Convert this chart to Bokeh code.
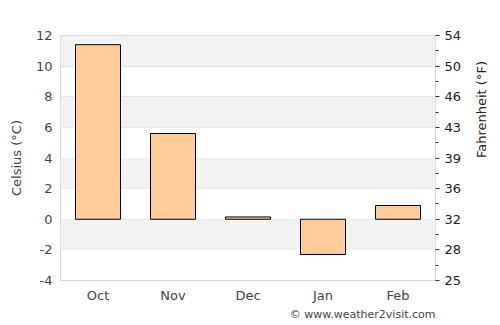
import math
from bokeh.plotting import figure
from bokeh.models import (LinearAxis, FixedTicker, BoxAnnotation, Title, Range1d, ColumnDataSource)
from bokeh.embed import file_html
from bokeh.resources import INLINE

months = ["Oct", "Nov", "Dec", "Jan", "Feb"]
celsius = [11.4, 5.6, 0.15, -2.3, 0.9]
c_ticks = [-4, -2, 0, 2, 4, 6, 8, 10, 12]
c_labels = ["-4", "-2", "0", "2", "4", "6", "8", "10", "12"]
f_labels = ["25", "28", "32", "36", "39", "43", "46", "50", "54"]
minor_ticks = [-3, -1, 1, 3, 5, 7, 9, 11]
band_ranges = [(10, 12), (6, 8), (2, 4), (-2, 0)]

FONT = "DejaVu Sans"
TXT = "#444444"

src = ColumnDataSource(dict(m=months, v=celsius))

p = figure(width=500, height=325, x_range=months, y_range=Range1d(-4, 12),
           output_backend="svg", toolbar_location=None,
           min_border_left=60, min_border_right=65, min_border_top=35, min_border_bottom=45)
p.outline_line_color = "#d4d4d4"
p.background_fill_color = "white"
p.border_fill_color = "white"

for lo, hi in band_ranges:
    p.add_layout(BoxAnnotation(bottom=lo, top=hi, fill_color="#f2f2f2", fill_alpha=1.0,
                               line_color=None, level="underlay"))

p.vbar(x="m", top="v", bottom=0, width=0.6, source=src,
       fill_color="#ffcc99", line_color="black", line_width=1)

p.xgrid.grid_line_color = None
p.ygrid.ticker = FixedTicker(ticks=c_ticks)
p.ygrid.grid_line_color = "#dddddd"

# left axis
ya = p.yaxis[0]
ya.ticker = FixedTicker(ticks=c_ticks)
ya.major_label_overrides = {t: l for t, l in zip(c_ticks, c_labels)}
ya.axis_label = "Celsius (°C)"
ya.axis_line_color = None
ya.major_tick_line_color = None
ya.minor_tick_line_color = None
ya.major_tick_out = 0
ya.minor_tick_out = 0
ya.major_label_standoff = 8
ya.axis_label_standoff = 9
ya.major_label_text_font = FONT
ya.major_label_text_font_size = "13px"
ya.major_label_text_color = TXT
ya.axis_label_text_font = FONT
ya.axis_label_text_font_size = "13px"
ya.axis_label_text_font_style = "normal"
ya.axis_label_text_color = TXT

# x axis
xa = p.xaxis[0]
xa.axis_line_color = None
xa.major_tick_line_color = None
xa.major_tick_out = 0
xa.minor_tick_out = 0
xa.major_label_standoff = 7
xa.major_label_text_font = FONT
xa.major_label_text_font_size = "13px"
xa.major_label_text_color = TXT

# right axis
ra = LinearAxis(ticker=FixedTicker(ticks=c_ticks, minor_ticks=minor_ticks),
                major_label_overrides={t: l for t, l in zip(c_ticks, f_labels)},
                axis_label="Fahrenheit (°F)")
ra.axis_line_color = None
ra.major_tick_line_color = "#333333"
ra.major_tick_out = 4
ra.major_tick_in = 0
ra.minor_tick_line_color = "#333333"
ra.minor_tick_out = 3
ra.minor_tick_in = 0
ra.major_label_standoff = 5
ra.axis_label_standoff = 17
ra.axis_label_orientation = math.pi / 2
ra.major_label_text_font = FONT
ra.major_label_text_font_size = "13px"
ra.major_label_text_color = "#222222"
ra.axis_label_text_font = FONT
ra.axis_label_text_font_size = "13px"
ra.axis_label_text_font_style = "normal"
ra.axis_label_text_color = "#222222"
p.add_layout(ra, "right")

p.add_layout(Title(text="© www.weather2visit.com", align="right", text_font=FONT,
                   text_font_size="11px", text_font_style="normal", text_color=TXT,
                   standoff=0), "below")

open("out.html", "w").write(file_html(p, INLINE))
